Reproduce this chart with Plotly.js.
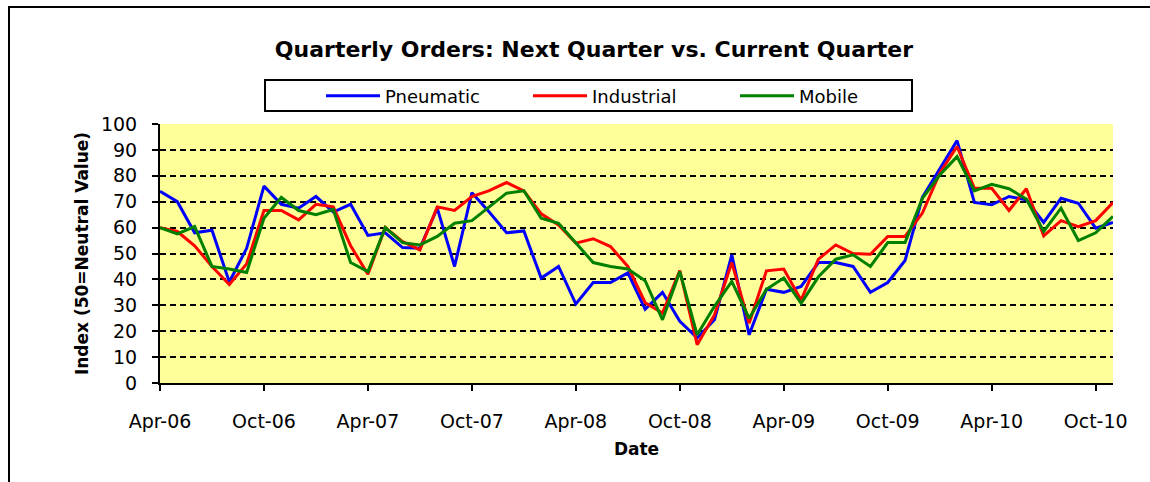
<!DOCTYPE html>
<html><head><meta charset="utf-8">
<script src="https://cdn.plot.ly/plotly-3.0.1.min.js"></script>
<style>html,body{margin:0;padding:0;background:#fff}</style>
</head><body><div id="chart" style="width:1150px;height:482px"></div>
<script>
const months = ["Apr-06","May-06","Jun-06","Jul-06","Aug-06","Sep-06","Oct-06","Nov-06","Dec-06",
"Jan-07","Feb-07","Mar-07","Apr-07","May-07","Jun-07","Jul-07","Aug-07","Sep-07","Oct-07","Nov-07","Dec-07",
"Jan-08","Feb-08","Mar-08","Apr-08","May-08","Jun-08","Jul-08","Aug-08","Sep-08","Oct-08","Nov-08","Dec-08",
"Jan-09","Feb-09","Mar-09","Apr-09","May-09","Jun-09","Jul-09","Aug-09","Sep-09","Oct-09","Nov-09","Dec-09",
"Jan-10","Feb-10","Mar-10","Apr-10","May-10","Jun-10","Jul-10","Aug-10","Sep-10","Oct-10","Nov-10"];
const tickLabels = ["Apr-06","Oct-06","Apr-07","Oct-07","Apr-08","Oct-08","Apr-09","Oct-09","Apr-10","Oct-10"];
const pneumatic = [74,70,58,59,39,52, 76,69,67.5,72,66,69, 57,58,52.3,52,67.5,45, 73.5,66,58,58.7,40.5,45,
  30.5,38.8,38.8,42.5,28.5,35, 23.8,17.4,24.4,49.5,18.6,36.2, 35,37.3,46.5,46.5,45,35,
  38.8,47.3,71.7,82.5,93.6,69.7, 68.8,72,70.7,62,71.3,69.4, 59.8,62];
const industrial = [60,58.5,53,45,38,46, 66.6,66.6,63,69,68,53, 42,60,54.6,51.4,68,66.6, 72,74.3,77.4,74.2,65.3,61,
  54,55.7,52.7,45,31,27, 43.4,14.8,26.3,46.5,23.1,43.3, 44,32,47.8,53.3,50,49.7,
  56.6,56.6,65.6,81,91.3,75.2, 75.2,66.6,75,56.8,62.7,60.4, 62.7,69.7];
const mobile = [60,57.6,60.4,45,44,42.7, 63.6,71.7,66.6,65,67,46.5, 43,60,54.2,53.3,56.6,61.7, 62.7,67.9,73.3,74.2,63.6,61.7,
  54.2,46.5,45,44,39.5,24.4, 43,18.6,29.6,39.2,25,36.2, 40.5,30.8,41,47.8,49.5,45,
  54.2,54.2,71.3,80.3,87.4,74.2, 76.7,75,71,58.5,67.5,55, 58,64.3];
const seriesNames = ["Pneumatic","Industrial","Mobile"];
const seriesColors = ["#0000FF","#FF0000","#008000"];
const seriesValues = [pneumatic, industrial, mobile];

const L=160, R=1113, T=124, B=383;
function px(x){return (x-L)/(R-L);}
function py(y){return (B-y)/(B-T);}

const traces = seriesValues.map((v,i)=>({
  type:'scatter', mode:'lines', x:months, y:v, name:seriesNames[i],
  line:{color:seriesColors[i], width:3}, hoverinfo:'skip'
}));

const layout = {
  width:1150, height:482,
  margin:{l:L, r:1150-R, t:T, b:482-B, autoexpand:false},
  paper_bgcolor:'#FFFFFF', plot_bgcolor:'#FFFF99',
  font:{family:'DejaVu Sans', color:'#000'},
  title:{text:'Quarterly Orders: Next Quarter vs. Current Quarter',
    font:{family:'DejaVu Sans', size:22, weight:700, color:'#000'},
    x:594/1150, xanchor:'center', y:1-49/482, yanchor:'middle'},
  showlegend:true,
  legend:{orientation:'h', x:px(321), xanchor:'left', y:py(96), yanchor:'middle',
    font:{size:18, color:'#000'}, bgcolor:'rgba(0,0,0,0)', borderwidth:0,
    itemwidth:54, entrywidth:138, entrywidthmode:'pixels', traceorder:'normal'},
  xaxis:{type:'category', range:[0,55], tickmode:'array', tickvals:tickLabels, ticktext:tickLabels,
    automargin:false,
    ticks:'outside', ticklen:6, tickwidth:2, tickcolor:'#000',
    showline:true, linecolor:'#000', linewidth:2, showgrid:false, zeroline:false,
    tickfont:{size:19, color:'#000'}, ticklabelstandoff:14,
    title:{text:'Date', font:{size:17, weight:700, color:'#000'}, standoff:12}, fixedrange:true},
  yaxis:{range:[0,100], tick0:0, dtick:10, automargin:false,
    ticks:'outside', ticklen:6, tickwidth:2, tickcolor:'#000',
    showline:true, linecolor:'#000', linewidth:2,
    showgrid:true, gridcolor:'#000', gridwidth:2, griddash:'6px,4px', zeroline:false,
    tickfont:{size:19, color:'#000'}, ticklabelstandoff:11,
    title:{text:'Index (50=Neutral Value)', font:{size:17, weight:700, color:'#000'}, standoff:8}, fixedrange:true},
  shapes:[
    {type:'rect', xref:'paper', yref:'paper', x0:px(9), x1:px(1165), y0:py(7), y1:py(500),
      line:{color:'#000', width:2}, fillcolor:'rgba(0,0,0,0)', layer:'above'},
    {type:'rect', xref:'paper', yref:'paper', x0:px(265), x1:px(912), y0:py(80), y1:py(111),
      line:{color:'#000', width:2}, fillcolor:'rgba(0,0,0,0)', layer:'above'}
  ]
};
Plotly.newPlot('chart', traces, layout, {displayModeBar:false, staticPlot:true});
</script></body></html>
